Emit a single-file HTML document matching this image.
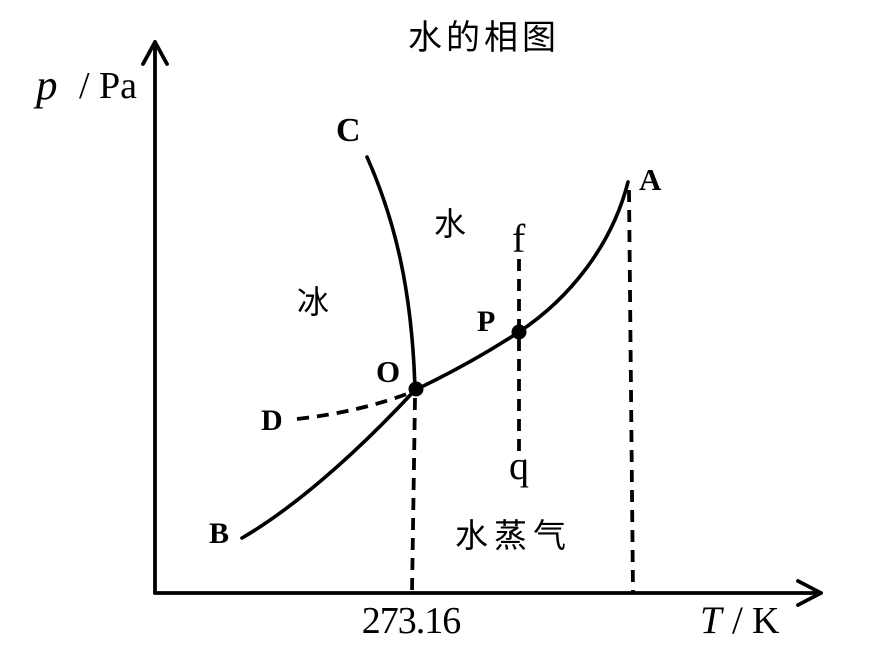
<!DOCTYPE html>
<html><head><meta charset="utf-8">
<style>
html,body{margin:0;padding:0;background:#fff;}
svg{display:block;}
.ser{font-family:"Liberation Serif","Noto Serif CJK SC",serif;}
.cjk{font-family:"Liberation Sans","Noto Sans CJK SC",sans-serif;}
</style></head>
<body>
<svg width="876" height="661" viewBox="0 0 876 661" xmlns="http://www.w3.org/2000/svg">
<rect width="876" height="661" fill="#fff"/>
<!-- axes -->
<g stroke="#000" stroke-width="3.8" fill="none" stroke-linecap="round" stroke-linejoin="round">
<line x1="155" y1="42" x2="155" y2="593"/>
<line x1="155" y1="593" x2="821" y2="593"/>
<polyline points="143,64 155,42 167,64"/>
<polyline points="798,581 821,593 798,605"/>
</g>
<!-- solid curves -->
<g stroke="#000" stroke-width="3.6" fill="none" stroke-linecap="round">
<path d="M367,157 C395,220 412,290 415,389"/>
<path d="M242,538 C290,510 350,460 415,390"/>
<path d="M415,390 Q470,364 519,332 C570,298 612,245 628,182"/>
</g>
<!-- dashed -->
<g stroke="#000" stroke-width="3.8" fill="none" stroke-dasharray="12,8">
<path d="M297,419 Q360,412 412,392"/>
<line x1="415" y1="398" x2="412" y2="593"/>
<line x1="519" y1="259" x2="519" y2="452"/>
<line x1="629" y1="190" x2="633" y2="593"/>
</g>
<circle cx="416" cy="389" r="7.5" fill="#000"/>
<circle cx="519" cy="332" r="7.5" fill="#000"/>
<!-- labels -->
<text x="408" y="49" class="cjk" font-size="34" letter-spacing="4">水的相图</text>
<text x="336" y="141" class="ser" font-size="34" font-weight="bold">C</text>
<text x="434" y="235" class="cjk" font-size="32">水</text>
<text x="297" y="313" class="cjk" font-size="32">冰</text>
<text x="512" y="252" class="ser" font-size="40">f</text>
<text x="509" y="479" class="ser" font-size="40">q</text>
<text x="477" y="331" class="ser" font-size="30" font-weight="bold">P</text>
<text x="376" y="382" class="ser" font-size="31" font-weight="bold">O</text>
<text x="261" y="430" class="ser" font-size="30" font-weight="bold">D</text>
<text x="209" y="543" class="ser" font-size="30" font-weight="bold">B</text>
<text x="639" y="190" class="ser" font-size="31" font-weight="bold">A</text>
<text x="455" y="547" class="cjk" font-size="33" letter-spacing="6">水蒸气</text>
<text x="411" y="633" text-anchor="middle" class="ser" font-size="38" letter-spacing="-1">273.16</text>
<text x="700" y="633" class="ser" font-size="39" font-style="italic">T</text>
<text x="732" y="633" class="ser" font-size="39">/</text>
<text x="752" y="633" class="ser" font-size="38">K</text>
<text x="36" y="99" class="ser" font-size="43" font-style="italic">p</text>
<text x="79" y="98" class="ser" font-size="38">/</text>
<text x="99" y="98" class="ser" font-size="38">Pa</text>
</svg>
</body></html>
